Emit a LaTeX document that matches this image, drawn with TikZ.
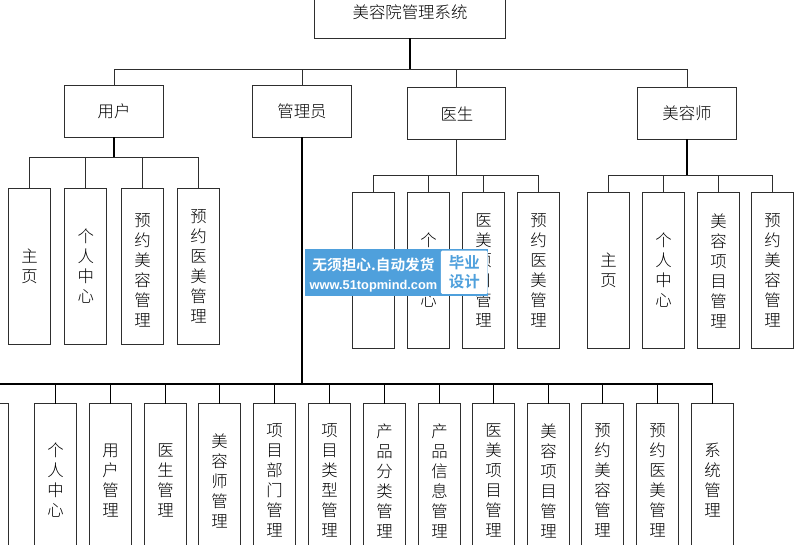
\documentclass[tikz,border=0pt]{standalone}
\usepackage{fontspec}
\setmainfont{Noto Sans CJK SC Light}
\newfontfamily\wmcjk{Noto Sans CJK SC Bold}
\newfontfamily\wmfont{Liberation Sans}
\definecolor{wmblue}{HTML}{4FA0DC}
\definecolor{linegray}{HTML}{2E2E2E}
\tikzset{
  x=0.75pt,y=-0.75pt,
  base/.style={draw=linegray,line width=0.75pt,fill=white,inner sep=0pt,outer sep=0pt,align=center,font=\fontsize{12.3}{15}\selectfont,text=black},
  rootbox/.style={base,minimum width=143.25pt,minimum height=39pt},
  rolebox/.style={base,minimum width=74.25pt,minimum height=39pt},
  vbox/.style={base,minimum width=31.5pt,minimum height=117pt},
  abox/.style={base,minimum width=31.5pt,minimum height=115.5pt},
  link/.style={draw=linegray,line width=0.75pt},
  midlink/.style={draw=black,line width=1.3pt},
  stublink/.style={draw=black,line width=1pt},
  trunk/.style={draw=black,line width=2.2pt},
  busline/.style={draw=black,line width=1.5pt},
}
\begin{document}
\begin{tikzpicture}
\useasboundingbox (0,0) rectangle (795,545);
\clip (0,0) rectangle (795,545);
\fill[white] (0,0) rectangle (795,545);
% nodes
\node[rootbox] (root) at (410,12.5) {美容院管理系统};
\node[rolebox] (user) at (114,111.5) {用户};
\node[rolebox] (admin) at (302,111.5) {管理员};
\node[rolebox,minimum width=73.5pt] (doctor) at (456.5,113.5) {\hspace{0.6pt}医生};
\node[rolebox] (beaut) at (687,113.5) {美容师};
% user children
\node[vbox] (u1) at (29.5,266.5) {主\\页};
\node[vbox] (u2) at (85.5,266.5) {\hspace{0.6pt}个\\\hspace{0.6pt}人\\\hspace{0.6pt}中\\\hspace{0.6pt}心};
\node[vbox] (u3) at (142.5,266.5) {\mbox{}\\预\\约\\美\\容\\管\\理};
\node[vbox] (u4) at (198.5,266.5) {预\\约\\医\\美\\管\\理};
% doctor children
\node[vbox] (d1) at (373.5,270.5) {};
\node[vbox] (d2) at (428.5,270.5) {个\\人\\中\\心};
\node[vbox] (d3) at (483.5,270.5) {医\\美\\项\\目\\管\\理};
\node[vbox] (d4) at (538.5,270.5) {预\\约\\医\\美\\管\\理};
% beautician children
\node[vbox] (b1) at (608.5,270.5) {主\\页};
\node[vbox] (b2) at (663.5,270.5) {个\\人\\中\\心};
\node[vbox] (b3) at (718.5,270.5) {美\\容\\项\\目\\管\\理};
\node[vbox] (b4) at (772.5,270.5) {预\\约\\美\\容\\管\\理};
% admin children
\node[abox] (a0) at (-12.5,480.5) {};
\node[abox] (a1) at (55.5,480.5) {个\\人\\中\\心};
\node[abox] (a2) at (110.5,480.5) {用\\户\\管\\理};
\node[abox] (a3) at (165.5,480.5) {医\\生\\管\\理};
\node[abox] (a4) at (219.5,480.5) {美\\容\\师\\管\\理};
\node[abox] (a5) at (274.5,480.5) {项\\目\\部\\门\\管\\理};
\node[abox] (a6) at (329.5,480.5) {项\\目\\类\\型\\管\\理};
\node[abox] (a7) at (384.5,480.5) {产\\品\\分\\类\\管\\理};
\node[abox] (a8) at (439.5,480.5) {产\\品\\信\\息\\管\\理};
\node[abox] (a9) at (493.5,480.5) {医\\美\\项\\目\\管\\理};
\node[abox] (a10) at (548.5,480.5) {美\\容\\项\\目\\管\\理};
\node[abox] (a11) at (602.5,480.5) {预\\约\\美\\容\\管\\理};
\node[abox] (a12) at (657.5,480.5) {预\\约\\医\\美\\管\\理};
\node[abox] (a13) at (712.5,480.5) {系\\统\\管\\理};
% connectors
\coordinate (rbus) at (410,69.5);
\draw[midlink] (root.south) -- (rbus);
\foreach \c in {user,admin,doctor,beaut} \draw[link] (rbus) -| (\c.north);
\coordinate (ubus) at (114,157.5);
\draw[midlink] (user.south) -- (ubus);
\foreach \c in {u1,u2,u3,u4} \draw[link] (ubus) -| (\c.north);
\coordinate (dbus) at (456.5,175.5);
\draw[link] (doctor.south) -- (dbus);
\foreach \c in {d1,d2,d3,d4} \draw[link] (dbus) -| (\c.north);
\coordinate (bbus) at (687,175.5);
\draw[midlink] (beaut.south) -- (bbus);
\foreach \c in {b1,b2,b3,b4} \draw[link] (bbus) -| (\c.north);
\coordinate (abus) at (302,384);
\draw[trunk] (admin.south) -- (abus);
\foreach \c in {a0,a1,a2,a3,a4,a5,a6,a7,a8,a9,a10,a11,a12,a13} \draw[stublink] (abus) -| (\c.north);
\draw[busline] (a0.north |- abus) -- (a13.north |- abus);
% watermark
\node[fill=wmblue,minimum width=137.25pt,minimum height=35.25pt,inner sep=0pt] (wm) at (396.5,272.5) {};
\node[fill=white,rounded corners=1pt,minimum width=35pt,minimum height=32.5pt,inner sep=0pt,align=center,text=wmblue,font=\wmcjk\fontsize{11.6}{13.9}\selectfont] (wmbox) at (464.3,272.3) {毕业\\设计};
\node[text=white,inner sep=0pt,font=\wmcjk\fontsize{11}{12}\selectfont] (wm1) at (373.5,265) {无须担心.自动发货};
\node[text=white,inner sep=0pt,font=\wmfont\fontsize{9.6}{12}\selectfont\bfseries] (wm2) at (373.5,286) {www.51topmind.com};
\end{tikzpicture}
\end{document}
